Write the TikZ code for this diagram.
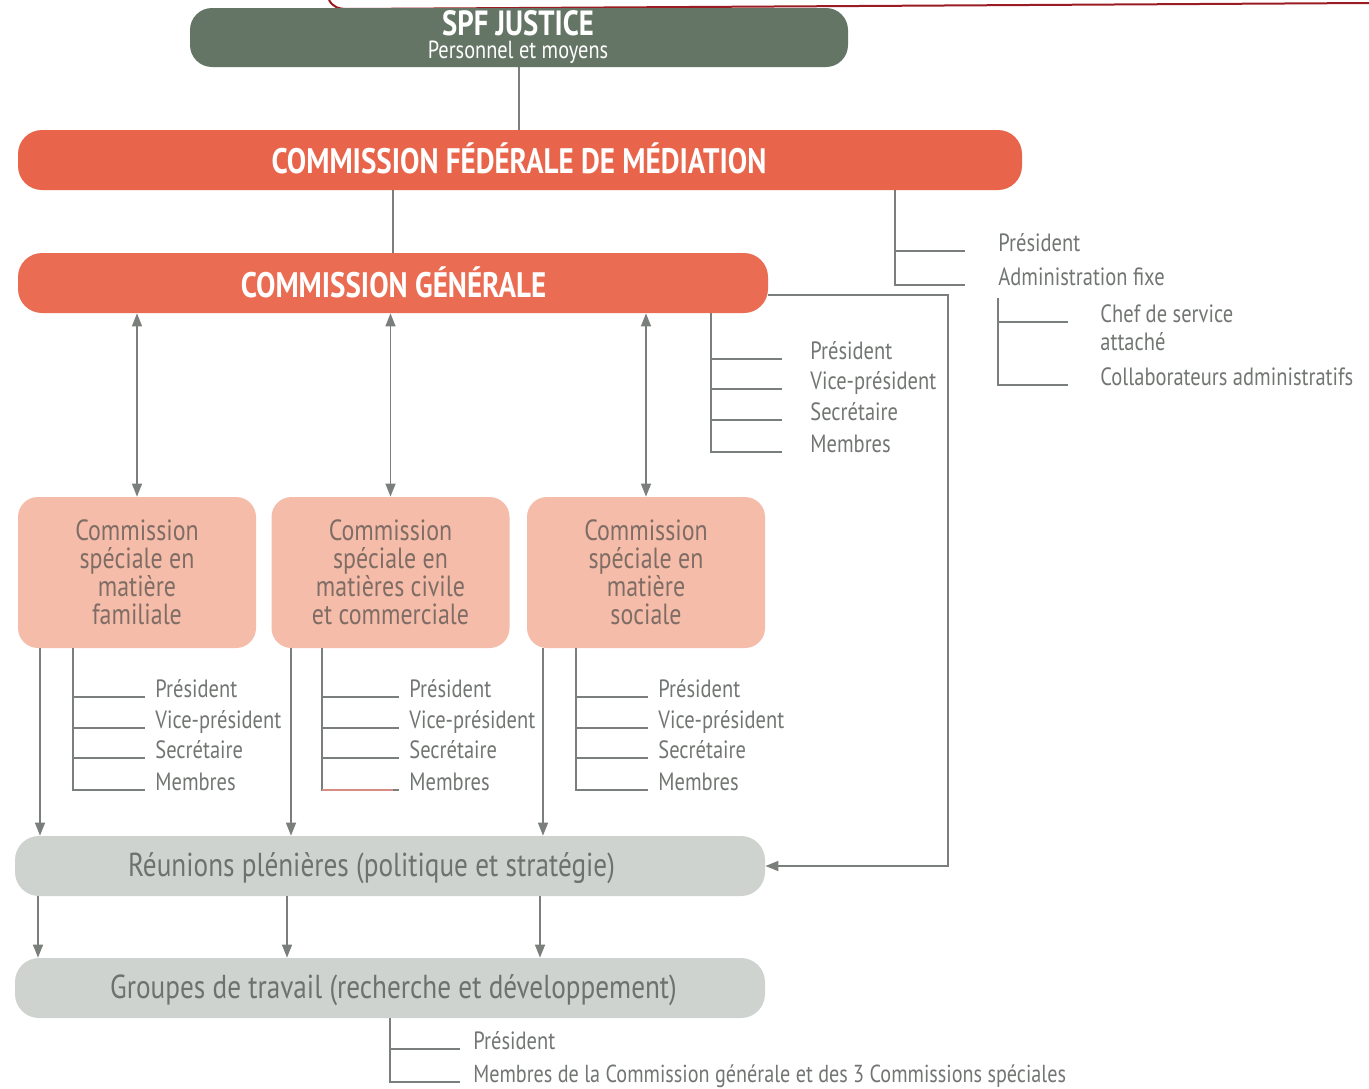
\documentclass[tikz,border=0pt]{standalone}
\usepackage{fontspec}
\setmainfont{PT Sans}[FakeStretch=0.82]
\usetikzlibrary{arrows.meta}
\definecolor{spfc}{HTML}{647565}
\definecolor{cfmc}{HTML}{E8654B}
\definecolor{cgc}{HTML}{EA6D53}
\definecolor{specc}{HTML}{F5BDA9}
\definecolor{spect}{HTML}{7F6D65}
\definecolor{grayfill}{HTML}{CED3CF}
\definecolor{grayt}{HTML}{6D726E}
\definecolor{linec}{HTML}{7B7F7C}
\definecolor{labc}{HTML}{727672}
\definecolor{topred}{HTML}{9A1C22}
\definecolor{pinkl}{HTML}{D88C84}
\begin{document}
\begin{tikzpicture}[x=0.5pt,y=-0.5pt,
 box/.style={rounded corners=11pt, inner sep=0pt, align=center, anchor=center},
 ln/.style={draw=linec, line width=0.75pt},
 arr/.style={ln, -{Triangle[width=5pt,length=6.5pt]}},
 darr/.style={ln, {Triangle[width=5pt,length=6.5pt]}-{Triangle[width=5pt,length=6.5pt]}},
 lab/.style={anchor=base west, inner sep=0pt, text=labc, font=\fontsize{12.5}{14}\selectfont},
 spec/.style={box, fill=specc, text=spect, minimum width=119pt, minimum height=75.5pt, rounded corners=10pt, font=\fontsize{14.6}{14}\selectfont},
 wide/.style={box, minimum height=30pt, rounded corners=12pt},
 ttl/.style={anchor=base, inner sep=0pt, text=white, font=\fontsize{17.7}{17}\selectfont\bfseries},
 gtxt/.style={anchor=base, inner sep=0pt, text=grayt, font=\fontsize{16.6}{16}\selectfont}
]
\fill[white] (0,0) rectangle (1369,1088);
\useasboundingbox (0,0) rectangle (1369,1088);

% top artifact line
\draw[topred, line width=1pt] (329,0) .. controls (333,7) and (338,9) .. (348,9) -- (1369,3);

% main boxes
\node[box, fill=spfc, minimum width=329pt, minimum height=29.5pt] (spf) at (519,37.5) {};
\node[anchor=center, inner sep=0pt, align=center, text=white, font=\fontsize{12.4}{11.5}\selectfont] (spft) at (518,37)
  {{\fontsize{17.5}{17}\selectfont\bfseries SPF JUSTICE}\\Personnel et moyens};

\node[wide, fill=cfmc, minimum width=502pt] (cfm) at (520,160) {};
\node[ttl] (cfmt) at (519,173) {COMMISSION FÉDÉRALE DE MÉDIATION};

\node[wide, fill=cgc, minimum width=375pt] (cg) at (393,283) {};
\node[ttl] (cgt) at (393.5,297) {COMMISSION GÉNÉRALE};

\node[spec] (s1) at (137,572.5) {Commission\\spéciale en\\matière\\familiale};
\node[spec] (s2) at (390.5,572.5) {Commission\\spéciale en\\matières civile\\et commerciale};
\node[spec] (s3) at (646,572.5) {Commission\\spéciale en\\matière\\sociale};

\node[wide, fill=grayfill, minimum width=375pt] (reu) at (390,866) {};
\node[gtxt] (reut) at (371.5,876) {Réunions plénières (politique et stratégie)};
\node[wide, fill=grayfill, minimum width=375pt] (gro) at (390,988) {};
\node[gtxt] (grot) at (393.5,998) {Groupes de travail (recherche et développement)};

% helper coordinates
\coordinate (x895) at (895,0);
\coordinate (fb) at (948,500);
\coordinate (xa) at (711,0);
\coordinate (o1) at (40,0);   \coordinate (m1) at (73,0);
\coordinate (o2) at (291,0);  \coordinate (m2) at (322,0);
\coordinate (o3) at (543,0);  \coordinate (m3) at (576,0);
\coordinate (r1) at (38,0); \coordinate (r2) at (287,0); \coordinate (r3) at (540,0);
\coordinate (xg) at (390,0);

% CFM right list
\node[lab] (fp) at (998,251) {Président};
\node[lab] (fa) at (998,285) {Administration fixe};
\node[lab] (fch) at (1100,322) {Chef de service};
\node[lab] (fat) at (1100,350) {attaché};
\node[lab] (fco) at (1100,385) {Collaborateurs administratifs};

% CG list
\node[lab] (gp) at (810,359) {Président};
\node[lab] (gv) at (810,389) {Vice-président};
\node[lab] (gs) at (810,420) {Secrétaire};
\node[lab] (gm) at (810,452) {Membres};

% special lists
\foreach \i/\tx in {1/155,2/409,3/658}{
  \node[lab] (p\i) at (\tx,697) {Président};
  \node[lab] (v\i) at (\tx,728) {Vice-président};
  \node[lab] (c\i) at (\tx,758) {Secrétaire};
  \node[lab] (b\i) at (\tx,790) {Membres};
}

% groupes list
\node[lab] (wp) at (473,1049) {Président};
\node[lab, font=\fontsize{12.3}{14}\selectfont] (wm) at (473,1082) {Membres de la Commission générale et des 3 Commissions spéciales};

% connectors
\draw[ln] (spf.south) -- (spf.south |- cfm.north);
\draw[ln] (cg.north) -- (cg.north |- cfm.south);
\draw[ln] (cfm.south -| x895) |- ([xshift=-16.5pt]fa.base west);
\draw[ln] (x895 |- fp.base) -- ([xshift=-16.5pt]fp.base west);
\draw[ln] ([yshift=-6.5pt]fa.base west) |- ([xshift=-16pt]fco.base west);
\draw[ln] (fa.base west |- fch.base) -- ([xshift=-16pt]fch.base west);

\draw[ln] (cg.south -| xa) |- ([xshift=-14pt]gm.base west);
\foreach \n in {gp,gv,gs}{\draw[ln] (xa |- \n.base) -- ([xshift=-14pt]\n.base west);}

\draw[arr] ([yshift=-6pt]cg.east) -| (fb) |- (reu.east);

\draw[darr] (cg.south -| s1) -- (s1.north);
\draw[darr] (cg.south -| s2) -- (s2.north);
\draw[darr] (cg.south -| s3) -- (s3.north);

\foreach \i in {1,2,3}{
  \draw[arr] (s\i.south -| o\i) -- (reu.north -| o\i);
  \draw[ln] (s\i.south -| m\i) |- ([xshift=-5pt]b\i.base west);
  \foreach \n in {p,v,c}{\draw[ln] (m\i |- \n\i.base) -- ([xshift=-5pt]\n\i.base west);}
  \draw[arr] (reu.south -| r\i) -- (gro.north -| r\i);
}
\draw[pinkl, line width=0.75pt] (m2 |- b2.base) -- ([xshift=-8pt]b2.base west);

\draw[ln] (gro.south -| xg) |- ([xshift=-6.5pt]wm.base west);
\draw[ln] (xg |- wp.base) -- ([xshift=-6.5pt]wp.base west);
\end{tikzpicture}
\end{document}
